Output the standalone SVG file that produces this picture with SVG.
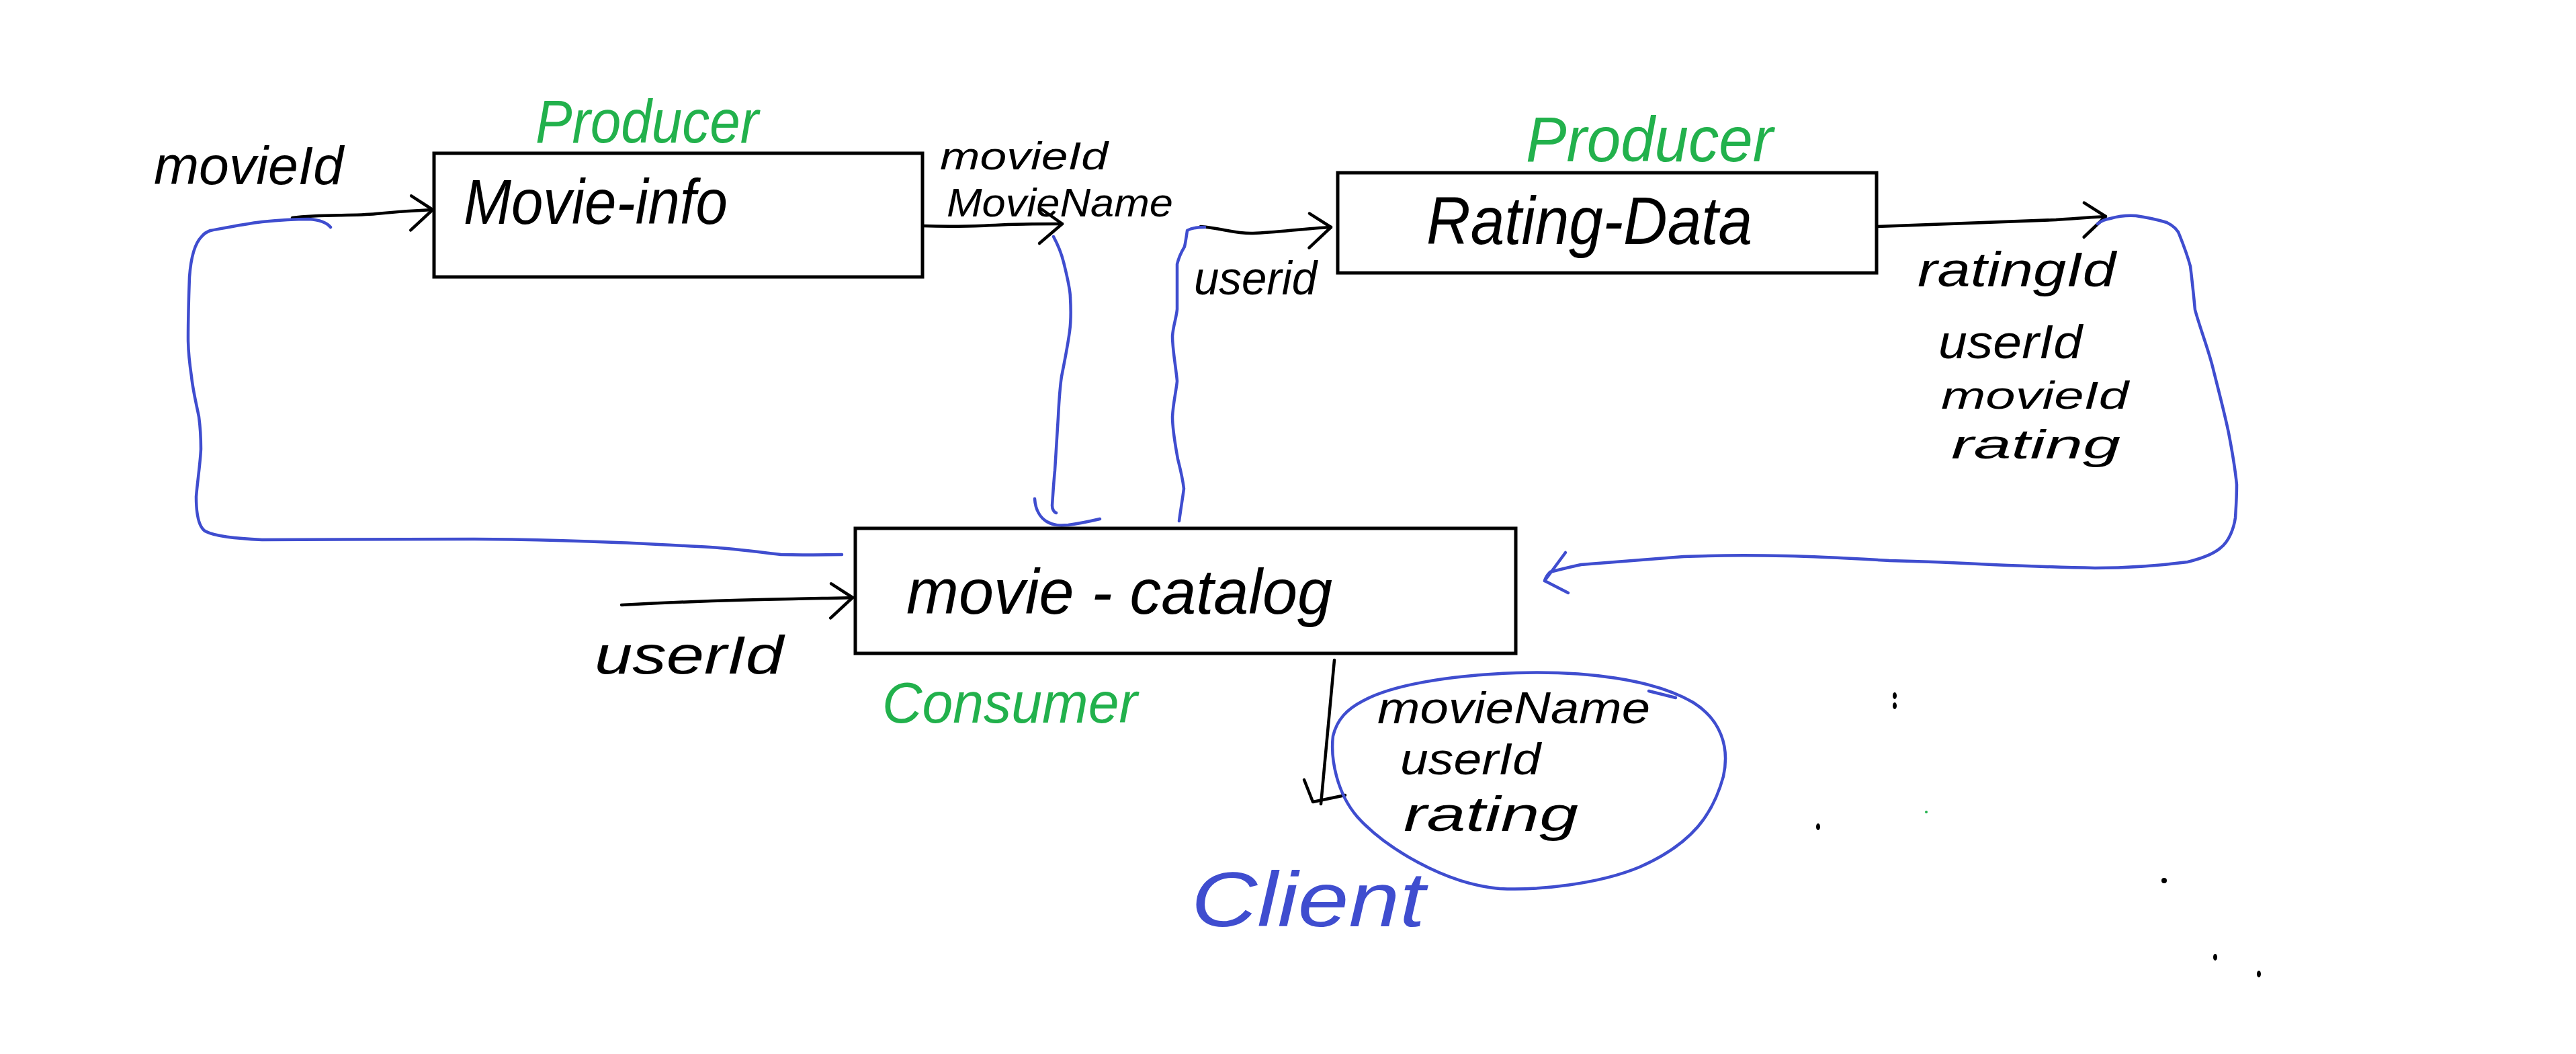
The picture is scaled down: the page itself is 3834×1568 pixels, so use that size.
<svg xmlns="http://www.w3.org/2000/svg" width="3834" height="1568" viewBox="0 0 3834 1568">
<style>
.box{fill:none;stroke:#000;stroke-width:5}
.blk{fill:none;stroke:#000;stroke-width:4.5;stroke-linecap:round;stroke-linejoin:round}
.blu{fill:none;stroke:#3f4dcf;stroke-width:4.5;stroke-linecap:round;stroke-linejoin:round}
text{font-family:"Liberation Sans","DejaVu Sans",sans-serif;font-style:italic}
.t{fill:#000}
.g{fill:#22b14c}
.b{fill:#3f4dcf}
.dot{fill:#000}
</style>
<defs>
<marker id="arr" viewBox="-40 -40 50 80" refX="0" refY="0" markerWidth="50" markerHeight="80" markerUnits="userSpaceOnUse" orient="auto">
<path d="M-31,-22 L0,0 L-34,29" fill="none" stroke="#000" stroke-width="4.5" stroke-linecap="round" stroke-linejoin="round"/>
</marker>
</defs>
<rect width="3834" height="1568" fill="#fff"/>

<g id="connectors">
<path class="blk" marker-end="url(#arr)" d="M435,324 C480,318 520,322 560,318 C590,315 620,313 644,312"/>
<path class="blk" marker-end="url(#arr)" d="M1374,336 C1420,338 1460,336 1500,334 C1530,333 1560,333 1581,333"/>
<path class="blk" marker-end="url(#arr)" d="M1787,337 C1820,340 1840,348 1865,347 C1900,346 1940,340 1981,338"/>
<path class="blk" marker-end="url(#arr)" d="M2794,337 C2900,333 3000,330 3060,327 C3090,325 3115,323 3134,322"/>
<path class="blk" marker-end="url(#arr)" d="M925,900 C1000,896 1100,892 1180,891 C1220,890 1245,890 1269,889"/>
<path class="blk" d="M1986,982 L1966,1196"/>
<path class="blk" d="M1941,1160 L1954,1193 L2002,1183"/>
<path class="blu" d="M1253,825 C1200,826 1180,825 1162,825 C1120,820 1090,816 1057,814 C1000,811 950,808 917,807 C850,804 780,802 706,802 C600,802 480,803 390,803 C350,801 320,798 305,790 C294,782 292,760 292,739 C294,715 298,690 299,668 C299,650 298,635 296,620 C292,600 287,580 285,560 C282,540 280,520 280,503 C280,470 281,440 282,412 C284,385 290,362 300,352 C305,346 310,344 313,343 C340,338 365,333 390,330 C420,327 440,326 460,326 C475,327 486,331 492,338"/>
<path class="blu" d="M1568,352 C1575,365 1580,378 1583,390 C1588,410 1593,430 1593,443 C1594,460 1594,478 1592,493 C1589,515 1584,540 1580,560 C1577,580 1576,600 1575,620 C1573,650 1571,680 1570,700 C1568,720 1567,738 1566,752 C1566,758 1569,762 1572,763"/>
<path class="blu" d="M1540,742 C1541,758 1548,770 1558,776 C1568,782 1578,782 1590,781 C1605,779 1620,776 1637,772"/>
<path class="blu" d="M1755,775 C1757,760 1760,742 1762,727 C1760,710 1756,695 1753,683 C1749,660 1745,640 1745,620 C1746,600 1750,585 1752,567 C1750,545 1745,520 1745,500 C1746,485 1751,472 1752,460 C1752,440 1752,415 1752,393 C1755,380 1760,372 1763,367 C1765,358 1766,350 1767,343 C1775,338 1785,338 1793,338"/>
<path class="blu" d="M3122,333 C3128,328 3135,326 3141,325 C3155,321 3165,320 3179,321 C3200,324 3215,328 3225,331 C3237,337 3242,343 3244,350 C3252,370 3257,385 3260,396 C3263,420 3265,440 3267,461 C3275,490 3287,520 3294,549 C3303,585 3311,615 3317,644 C3323,675 3327,700 3329,721 C3329,740 3328,755 3327,770 C3325,785 3318,805 3305,815 C3295,824 3280,830 3256,836 C3210,842 3160,845 3118,845 C3065,844 3015,842 2965,840 C2910,837 2860,835 2812,834 C2760,831 2710,828 2659,827 C2610,826 2555,826 2506,828 C2450,832 2400,836 2353,840 C2330,845 2315,849 2307,851 C2303,855 2300,860 2299,864"/>
<path class="blu" d="M2330,822 L2299,864 L2334,882"/>
</g>

<g id="movie-info">
<rect class="box" x="646" y="228" width="727" height="184"/>
<text class="t" x="690" y="333" font-size="95" textLength="393" lengthAdjust="spacingAndGlyphs">Movie-info</text>
</g>

<g id="rating-data">
<rect class="box" x="1991" y="257" width="802" height="149"/>
<text class="t" x="2123" y="363" font-size="100" textLength="485" lengthAdjust="spacingAndGlyphs">Rating-Data</text>
</g>

<g id="movie-catalog">
<rect class="box" x="1273" y="786" width="983" height="186"/>
<text class="t" x="1349" y="913" font-size="95" textLength="634" lengthAdjust="spacingAndGlyphs">movie - catalog</text>
</g>

<g id="client">
<path class="blu" d="M2028,1043 C2070,1020 2150,1005 2257,1001 C2360,998 2460,1010 2520,1045 C2560,1070 2575,1110 2565,1155 C2550,1210 2520,1255 2440,1290 C2380,1315 2290,1325 2232,1322 C2150,1315 2060,1260 2020,1215 C1990,1180 1980,1130 1984,1095 C1990,1070 2005,1055 2028,1043 Z"/>
<path class="blu" d="M2454,1028 L2494,1038"/>
<text class="t" x="2050" y="1076" font-size="66" textLength="406" lengthAdjust="spacingAndGlyphs">movieName</text>
<text class="t" x="2084" y="1152" font-size="66" textLength="209" lengthAdjust="spacingAndGlyphs">userId</text>
<text class="t" x="2089" y="1236" font-size="72" textLength="260" lengthAdjust="spacingAndGlyphs">rating</text>
<text class="b" x="1773" y="1378" font-size="115" textLength="348" lengthAdjust="spacingAndGlyphs">Client</text>
</g>

<g id="labels">
<text class="g" x="797" y="212" font-size="90" textLength="332" lengthAdjust="spacingAndGlyphs">Producer</text>
<text class="g" x="2271" y="240" font-size="95" textLength="368" lengthAdjust="spacingAndGlyphs">Producer</text>
<text class="g" x="1313" y="1075" font-size="85" textLength="380" lengthAdjust="spacingAndGlyphs">Consumer</text>
<text class="t" x="229" y="274" font-size="80" textLength="282" lengthAdjust="spacingAndGlyphs">movieId</text>
<text class="t" x="1399" y="252" font-size="58" textLength="250" lengthAdjust="spacingAndGlyphs">movieId</text>
<text class="t" x="1409" y="322" font-size="60" textLength="337" lengthAdjust="spacingAndGlyphs">MovieName</text>
<text class="t" x="1777" y="438" font-size="70" textLength="183" lengthAdjust="spacingAndGlyphs">userid</text>
<text class="t" x="2854" y="426" font-size="72" textLength="295" lengthAdjust="spacingAndGlyphs">ratingId</text>
<text class="t" x="2885" y="533" font-size="70" textLength="214" lengthAdjust="spacingAndGlyphs">userId</text>
<text class="t" x="2889" y="608" font-size="58" textLength="279" lengthAdjust="spacingAndGlyphs">movieId</text>
<text class="t" x="2904" y="682" font-size="62" textLength="252" lengthAdjust="spacingAndGlyphs">rating</text>
<text class="t" x="885" y="1002" font-size="80" textLength="281" lengthAdjust="spacingAndGlyphs">userId</text>
</g>

<g id="marks">
<ellipse class="dot" cx="2820" cy="1035" rx="3" ry="5"/>
<ellipse class="dot" cx="2820" cy="1050" rx="3" ry="5"/>
<ellipse class="dot" cx="2706" cy="1230" rx="3" ry="5"/>
<circle cx="2867" cy="1208" r="2" fill="#22b14c"/>
<circle class="dot" cx="3221" cy="1310" r="4"/>
<ellipse class="dot" cx="3297" cy="1424" rx="3" ry="5"/>
<ellipse class="dot" cx="3362" cy="1449" rx="3" ry="5"/>
</g>
</svg>
